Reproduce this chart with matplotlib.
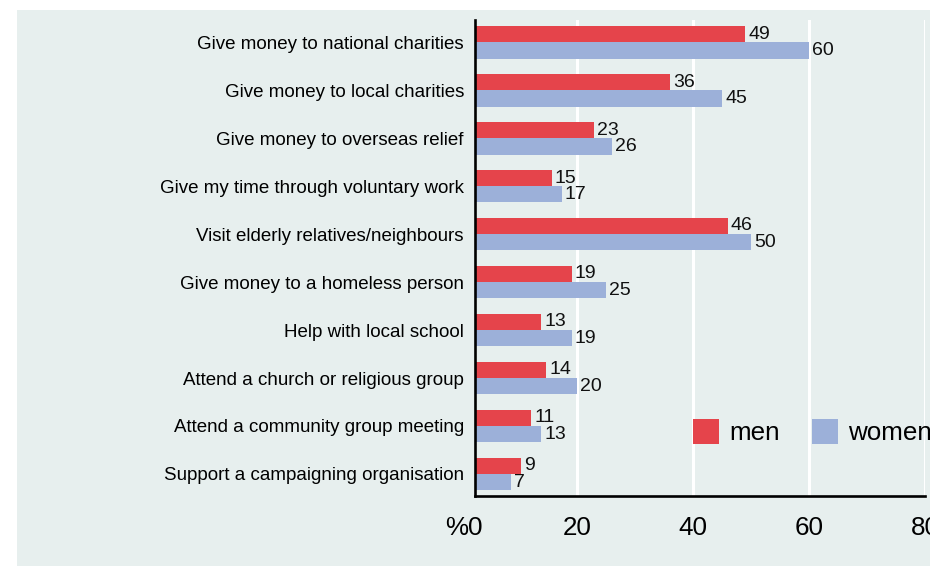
import numpy as np
import matplotlib
matplotlib.use("Agg")
import matplotlib.pyplot as plt
from matplotlib.patches import Rectangle, Patch

plt.rcParams['font.family'] = ['Liberation Sans', 'DejaVu Sans']

categories = [
    "Give money to national charities",
    "Give money to local charities",
    "Give money to overseas relief",
    "Give my time through voluntary work",
    "Visit elderly relatives/neighbours",
    "Give money to a homeless person",
    "Help with local school",
    "Attend a church or religious group",
    "Attend a community group meeting",
    "Support a campaigning organisation",
]
men = [49, 36, 23, 15, 46, 19, 13, 14, 11, 9]
women = [60, 45, 26, 17, 50, 25, 19, 20, 13, 7]
xticks = [0, 20, 40, 60, 80]
xticklabels = ["0", "20", "40", "60", "80"]

RED = "#e5444b"
BLUE = "#9cb0d9"
BG = "#e7efee"

W, H = 930, 567
fig = plt.figure(figsize=(W / 100, H / 100), dpi=100)
fig.patches.append(Rectangle((17 / W, 1 / H), 1.0, 556 / H, transform=fig.transFigure,
                             facecolor=BG, edgecolor='none', zorder=-10))

ax = fig.add_axes([475 / W, 71 / H, 450 / W, 476 / H])
ax.set_facecolor('none')

# piecewise axis: first 20 units are slightly compressed, as in the reference
k = 102.0 / 116.0
def fwd(x):
    x = np.asarray(x, dtype=float)
    return np.where(x < 20, x * k, x - 20 + 20 * k)
def inv(y):
    y = np.asarray(y, dtype=float)
    return np.where(y < 20 * k, y / k, y + 20 - 20 * k)
ax.set_xscale('function', functions=(fwd, inv))

y = np.arange(len(categories))
h = 0.34
ax.barh(y - h / 2, men, height=h, color=RED, zorder=3, label='men')
ax.barh(y + h / 2, women, height=h, color=BLUE, zorder=3, label='women')

for yi, v in zip(y, men):
    ax.annotate(str(v), xy=(v, yi - h / 2), xytext=(2.2, 0), textcoords='offset points',
                ha='left', va='center', fontsize=14, color='#111111', zorder=4)
for yi, v in zip(y, women):
    ax.annotate(str(v), xy=(v, yi + h / 2), xytext=(2.2, 0), textcoords='offset points',
                ha='left', va='center', fontsize=14, color='#111111', zorder=4)

ax.set_xlim(0, 80)
ax.set_ylim(9.46, -0.465)
ax.set_xticks(xticks)
ax.set_xticklabels(xticklabels)
ax.set_yticks(y)
ax.set_yticklabels(categories)
ax.tick_params(axis='x', length=0, pad=14.5, labelsize=18.7)
ax.tick_params(axis='y', length=0, pad=8, labelsize=13.5)

ax.annotate("%", xy=(0, 0), xycoords=('data', 'axes fraction'), xytext=(-5.2, -14.5),
            textcoords='offset points', ha='right', va='top', fontsize=18.7,
            annotation_clip=False)

ax.xaxis.grid(True, color='white', linewidth=2.2, zorder=0)
ax.yaxis.grid(False)
ax.set_axisbelow(True)
for s in ['top', 'right']:
    ax.spines[s].set_visible(False)
for s in ['left', 'bottom']:
    ax.spines[s].set_linewidth(1.9)
    ax.spines[s].set_color('black')
    ax.spines[s].set_zorder(5)

handles = [Patch(facecolor=RED, edgecolor='none'), Patch(facecolor=BLUE, edgecolor='none')]
fig.legend(handles, ['men', 'women'], loc='upper left',
           bbox_to_anchor=(693 / W, 1 - 419 / H), bbox_transform=fig.transFigure,
           ncol=2, frameon=False, fontsize=18.7, handlelength=1.0, handleheight=1.1,
           handletextpad=0.38, columnspacing=1.27, borderpad=0, borderaxespad=0)

fig.savefig("out.png", dpi=100, facecolor='white')
